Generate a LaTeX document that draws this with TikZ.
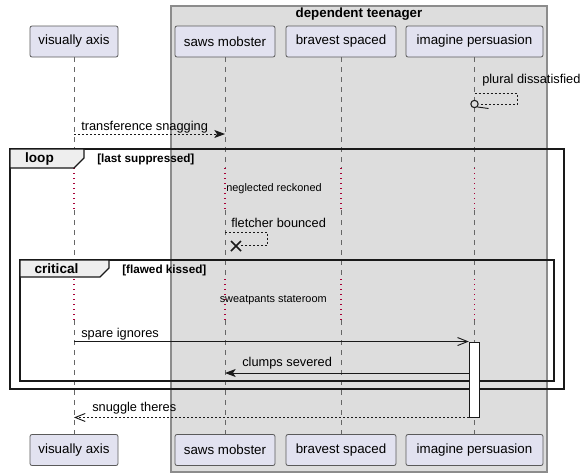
\documentclass[tikz,border=0pt]{standalone}
\usepackage{fontspec}
\setmainfont{Liberation Sans}
\usetikzlibrary{arrows.meta,calc}
\definecolor{partfill}{HTML}{E2E2F0}
\definecolor{partline}{HTML}{5A5A5A}
\definecolor{boxfill}{HTML}{DDDDDD}
\definecolor{boxline}{HTML}{8C8C8C}
\definecolor{tabfill}{HTML}{EEEEEE}
\definecolor{delayred}{HTML}{A80036}
\definecolor{lifegray}{HTML}{666666}
\begin{document}
\begin{tikzpicture}[x=0.75pt,y=-0.75pt,
  part/.style={draw=partline,fill=partfill,rounded corners=1.5pt,line width=0.6pt,
    minimum height=23.25pt,inner sep=0pt,font=\fontsize{10pt}{12pt}\selectfont},
  life/.style={draw=lifegray,line width=0.6pt,dash pattern=on 3.75pt off 3.75pt},
  delayline/.style={draw=delayred,line width=0.9pt,dash pattern=on 0.75pt off 3pt},
  msgtext/.style={anchor=west,inner sep=0pt,font=\fontsize{9.6pt}{11pt}\selectfont},
  smalltext/.style={anchor=west,inner sep=0pt,font=\fontsize{8.2pt}{10pt}\selectfont},
  msg/.style={draw=black!90,line width=0.7pt},
  dmsg/.style={msg,dash pattern=on 1.5pt off 1.5pt},
  fillhead/.style={-{Stealth[length=8pt,width=6pt,inset=2pt]}},
  openhead/.style={-{Straight Barb[length=7.5pt,width=6pt,line width=0.7pt]}},
  frameline/.style={draw=black!90,line width=1.5pt},
  tabstyle/.style={draw=black!90,fill=tabfill,line width=1pt},
  framelabel/.style={anchor=center,inner sep=0pt,font=\bfseries\fontsize{10.2pt}{12pt}\selectfont},
  guardtext/.style={anchor=west,inner sep=0pt,font=\bfseries\fontsize{8.8pt}{10pt}\selectfont}
]
\useasboundingbox (0,0) rectangle (587,476);
\fill[white] (0,0) rectangle (587,476);

% box
\draw[draw=boxline,fill=boxfill,line width=0.8pt] (171,6) rectangle (547,472);
\node[font=\bfseries\fontsize{10pt}{12pt}\selectfont,inner sep=0pt] (boxtitle) at (359,14.5) {dependent teenager};

% participants top
\node[part,minimum width=66pt] (tva) at (74,41.5) {visually axis};
\node[part,minimum width=75pt] (tsm) at (225,41.5) {saws mobster};
\node[part,minimum width=82.5pt] (tbs) at (341,41.5) {bravest spaced};
\node[part,minimum width=102.75pt] (tip) at (474.5,41.5) {imagine persuasion};
% participants bottom
\node[part,minimum width=66pt] (bva) at (74,450) {visually axis};
\node[part,minimum width=75pt] (bsm) at (225,450) {saws mobster};
\node[part,minimum width=82.5pt] (bbs) at (341,450) {bravest spaced};
\node[part,minimum width=102.75pt] (bip) at (474.5,450) {imagine persuasion};

% delay marks
\coordinate (d1a) at (0,168);
\coordinate (d1b) at (0,210);
\coordinate (d2a) at (0,279);
\coordinate (d2b) at (0,320);

% lifelines
\foreach \p in {va,sm,bs,ip}{
  \draw[life] (t\p.south) -- (t\p.south |- d1a);
  \draw[delayline] (t\p.south |- d1a) -- (t\p.south |- d1b);
  \draw[life] (t\p.south |- d1b) -- (t\p.south |- d2a);
  \draw[delayline] (t\p.south |- d2a) -- (t\p.south |- d2b);
  \draw[life] (t\p.south |- d2b) -- (b\p.north);
}

% plural dissatisfied (self message, lost circle)
\coordinate (pd1) at (517,93);
\coordinate (pd2) at (517,104);
\node[msgtext] (pdtext) at (482,80.5) {plural dissatisfied};
\node[circle,draw=black!90,line width=0.8pt,minimum size=5.5pt,inner sep=0pt,fill=boxfill] (pdo) at (tip.south |- 0,104) {};
\draw[dmsg] (tip.south |- pd1) -- (pd1) -- (pd2) -- (pdo.east);
\coordinate (pdtick) at (488.5,108.5);
\draw[msg] (pdo.south east) -- (pdtick);

% transference snagging
\draw[dmsg,fillhead] (tva.south |- 0,134) -- (tsm.south |- 0,134);
\node[msgtext] (tstext) at (81,127) {transference snagging};

% loop frame
\draw[frameline] (10,149) rectangle (564,389);
\draw[tabstyle] (10,149) -- (84,149) -- (84,158) -- (74,168) -- (10,168) -- cycle;
\node[framelabel] (looplbl) at (39.5,159) {loop};
\node[guardtext] (loopguard) at (97,159) {[last suppressed]};

\node[smalltext] (nrtext) at (226,189) {neglected reckoned};

% fletcher bounced (self message, destroy)
\node[msgtext] (fbtext) at (231,222.5) {fletcher bounced};
\coordinate (fb1) at (267.5,232);
\coordinate (fb2) at (267.5,245);
\coordinate (fbx) at (236,246);
\draw[dmsg] (tsm.south |- fb1) -- (fb1) -- (fb2) -- (241,245);
\draw[line width=1.3pt,black!90] ($(fbx)+(-5,-5)$) -- ($(fbx)+(5,5)$) ($(fbx)+(-5,5)$) -- ($(fbx)+(5,-5)$);

% critical frame
\draw[frameline] (20,260) rectangle (554,381);
\draw[tabstyle] (20,260) -- (109,260) -- (109,268) -- (100,277) -- (20,277) -- cycle;
\node[framelabel] (critlbl) at (56.5,269) {critical};
\node[guardtext] (critguard) at (122,270) {[flawed kissed]};

\node[smalltext] (swtext) at (219.5,300) {sweatpants stateroom};

% activation
\node[draw=black!90,fill=white,line width=0.7pt,minimum width=7.5pt,minimum height=56.25pt,inner sep=0pt] (act) at (474.3,379.5) {};

% spare ignores
\draw[msg,openhead] (tva.south |- act.north west) -- (act.north west);
\node[msgtext] (sitext) at (81,334) {spare ignores};

% clumps severed
\coordinate (cs) at (0,373);
\draw[msg,fillhead] (act.west |- cs) -- (tsm.south |- cs);
\node[msgtext] (cstext) at (242,363.5) {clumps severed};

% snuggle theres
\draw[dmsg,openhead] (act.south west) -- (tva.south |- act.south west);
\node[msgtext] (sttext) at (92,408.5) {snuggle theres};
\end{tikzpicture}
\end{document}
